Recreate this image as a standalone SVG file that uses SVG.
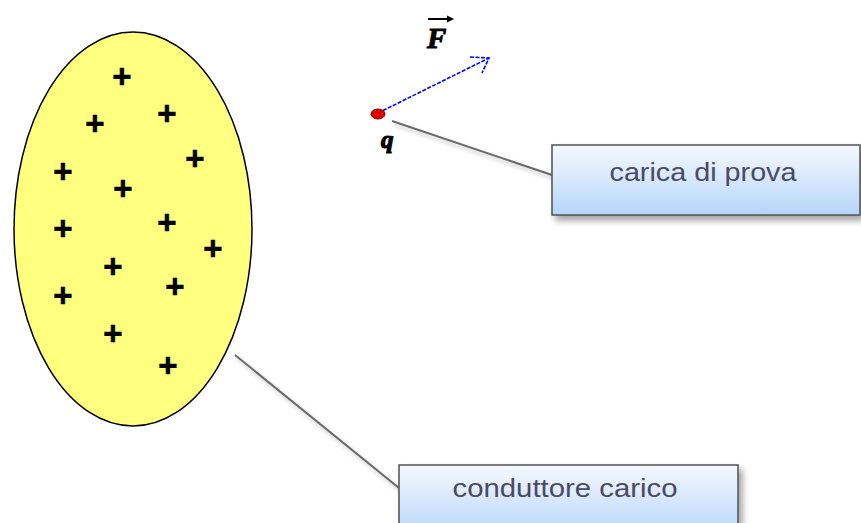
<svg xmlns="http://www.w3.org/2000/svg" width="861" height="523" viewBox="0 0 861 523">
<defs>
<linearGradient id="boxg" x1="0" y1="0" x2="0" y2="1">
<stop offset="0" stop-color="#f6f9fe"/>
<stop offset="1" stop-color="#b5d5f9"/>
</linearGradient>
<filter id="sh" x="-10%" y="-20%" width="130%" height="160%">
<feDropShadow dx="4" dy="5" stdDeviation="3" flood-color="#000" flood-opacity="0.35"/>
</filter>
<filter id="lsh" x="-10%" y="-10%" width="130%" height="140%">
<feDropShadow dx="2" dy="3" stdDeviation="2" flood-color="#000" flood-opacity="0.25"/>
</filter>
</defs>
<style>
.plus{font-family:"Liberation Sans",Arial,sans-serif;font-weight:bold;font-size:33px;fill:#000;stroke:#000;stroke-width:0.6;text-anchor:middle}
.lbl{font-family:"Liberation Sans",Arial,sans-serif;font-size:25px;fill:#4a4a66;text-anchor:middle}
.box{fill:url(#boxg);stroke:#505050;stroke-width:1.5;filter:url(#sh)}
.lead{stroke:#6a6a6a;stroke-width:2;fill:none;filter:url(#lsh)}
.sym{font-family:"Liberation Serif","Times New Roman",serif;font-weight:bold;font-style:italic;fill:#000;stroke:#000}
</style>
<rect width="861" height="523" fill="#fff"/>
<g id="connectors">
<line class="lead" x1="392" y1="121" x2="552" y2="175"/>
<line class="lead" x1="235" y1="355" x2="399" y2="488"/>
</g>
<g id="conduttore">
<ellipse cx="133" cy="229" rx="119" ry="197" fill="#ffff80" stroke="#000" stroke-width="1.5"/>
<text class="plus" x="122" y="88">+</text>
<text class="plus" x="95" y="135">+</text>
<text class="plus" x="167" y="125">+</text>
<text class="plus" x="195" y="170">+</text>
<text class="plus" x="63" y="183">+</text>
<text class="plus" x="123" y="200">+</text>
<text class="plus" x="63" y="240">+</text>
<text class="plus" x="167" y="234">+</text>
<text class="plus" x="213" y="260">+</text>
<text class="plus" x="113" y="278">+</text>
<text class="plus" x="175" y="298">+</text>
<text class="plus" x="63" y="307">+</text>
<text class="plus" x="113" y="345">+</text>
<text class="plus" x="168" y="377">+</text>
</g>
<g id="carica">
<line x1="378" y1="113" x2="489" y2="58" stroke="#0000ff" stroke-width="1.6" stroke-dasharray="4,1.5"/>
<polyline points="470,57 489,58 482,73" fill="none" stroke="#0000ff" stroke-width="1.6" stroke-dasharray="4,1.5"/>
<ellipse cx="378" cy="114" rx="7" ry="5" fill="#e00000" stroke="#800000" stroke-width="1"/>
<text class="sym" x="427" y="48" font-size="29" stroke-width="1">F</text>
<line x1="428" y1="19" x2="450" y2="19" stroke="#000" stroke-width="2"/>
<polygon points="454,19 447,15.5 447,22.5" fill="#000"/>
<text class="sym" x="381" y="148" font-size="25" stroke-width="1.2">q</text>
</g>
<g id="callout-prova">
<rect class="box" x="552" y="145" width="308" height="70"/>
<text class="lbl" x="703" y="181" textLength="187" lengthAdjust="spacingAndGlyphs">carica di prova</text>
</g>
<g id="callout-conduttore">
<rect class="box" x="399" y="465" width="339" height="72"/>
<text class="lbl" x="565" y="497" textLength="225" lengthAdjust="spacingAndGlyphs">conduttore carico</text>
</g>
</svg>
